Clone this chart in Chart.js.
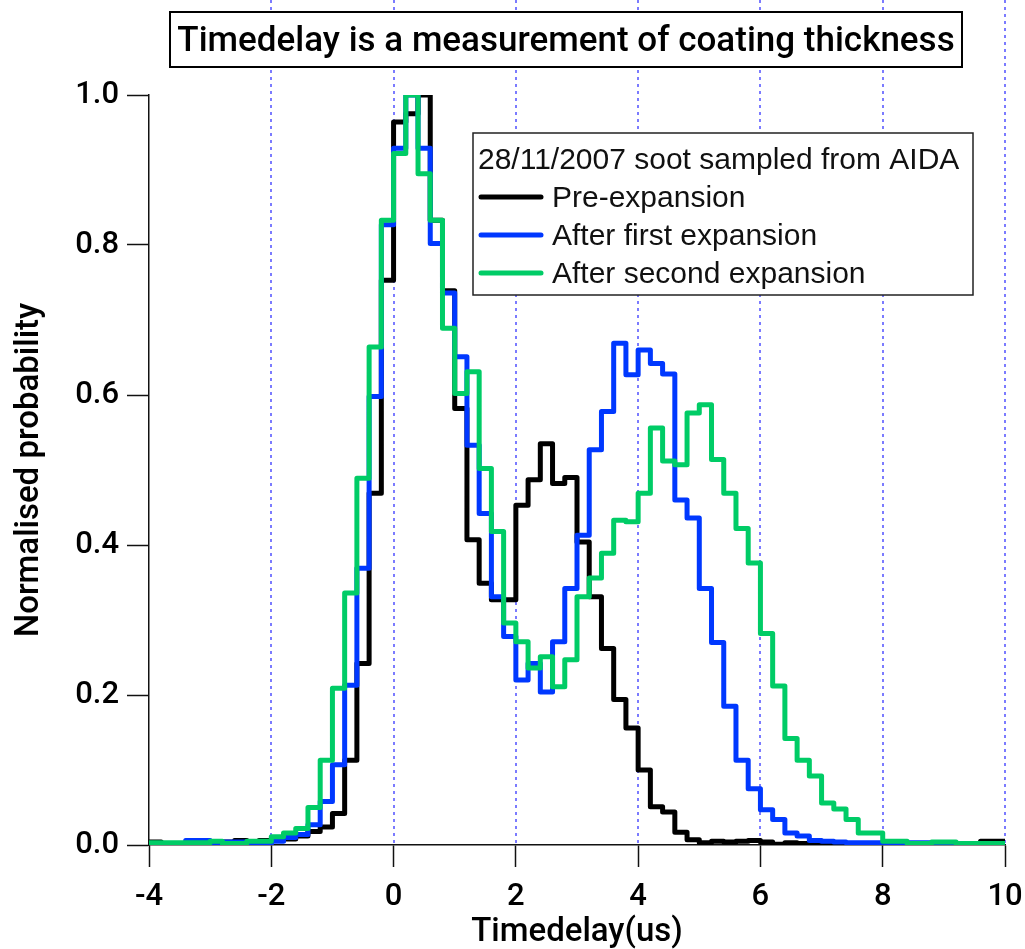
<!DOCTYPE html>
<html>
<head>
<meta charset="utf-8">
<script src="https://cdn.jsdelivr.net/npm/chart.js@4.4.1/dist/chart.umd.min.js"></script>
<style>
  html, body { margin: 0; padding: 0; background: #fff; }
  canvas { display: block; }
</style>
</head>
<body>
<canvas id="chart" width="1025" height="949"></canvas>
<script>
/* ── Data: normalised histograms, 0.2 us bins starting at -4 ── */

const binStart = -4;
const binWidth = 0.2;

const preExpansion = [
  0.004, 0.002, 0.002, 0.000, 0.002, 0.002, 0.004, 0.006, 0.004, 0.006,
  0.006, 0.008, 0.012, 0.018, 0.024, 0.042, 0.113, 0.242, 0.469, 0.753,
  0.964, 0.975, 1.000, 0.833, 0.739, 0.582, 0.407, 0.349, 0.327, 0.327,
  0.453, 0.487, 0.535, 0.482, 0.490, 0.404, 0.331, 0.262, 0.194, 0.156,
  0.100, 0.051, 0.044, 0.017, 0.007, 0.003, 0.005, 0.004, 0.005, 0.006,
  0.004, 0.001, 0.003, 0.002, 0.000, 0.000, 0.000, 0.002, 0.002, 0.002,
  0.001, 0.001, 0.001, 0.001, 0.001, 0.001, 0.001, 0.001, 0.005, 0.005
];

const afterFirst = [
  0.002, 0.000, 0.000, 0.006, 0.006, 0.002, 0.004, 0.004, 0.000, 0.000,
  0.005, 0.010, 0.014, 0.027, 0.058, 0.107, 0.213, 0.369, 0.598, 0.827,
  0.929, 1.000, 0.929, 0.802, 0.736, 0.651, 0.533, 0.442, 0.331, 0.278,
  0.220, 0.242, 0.204, 0.271, 0.342, 0.413, 0.527, 0.578, 0.669, 0.627,
  0.660, 0.642, 0.628, 0.460, 0.436, 0.342, 0.270, 0.185, 0.113, 0.075,
  0.047, 0.034, 0.016, 0.012, 0.006, 0.005, 0.004, 0.003, 0.003, 0.003,
  0.002, 0.003, 0.003, 0.003, 0.001, 0.001, 0.001, 0.001, 0.001, 0.001
];

const afterSecond = [
  0.003, 0.003, 0.003, 0.003, 0.003, 0.005, 0.002, 0.002, 0.005, 0.005,
  0.011, 0.016, 0.022, 0.050, 0.113, 0.209, 0.336, 0.489, 0.664, 0.833,
  0.922, 1.000, 0.895, 0.833, 0.689, 0.602, 0.631, 0.502, 0.418, 0.296,
  0.271, 0.236, 0.251, 0.211, 0.247, 0.331, 0.356, 0.389, 0.433, 0.431,
  0.469, 0.556, 0.512, 0.507, 0.576, 0.587, 0.514, 0.469, 0.422, 0.376,
  0.282, 0.212, 0.142, 0.113, 0.092, 0.056, 0.048, 0.034, 0.016, 0.016,
  0.005, 0.005, 0.002, 0.002, 0.004, 0.004, 0.002, 0.002, 0.002, 0.002
];

const seriesLabels = ['Pre-expansion', 'After first expansion', 'After second expansion'];
const seriesColors = ['#000000', '#0038ff', '#00cc66'];

const xTicks = [-4, -2, 0, 2, 4, 6, 8, 10];
const yTicks = [0, 0.2, 0.4, 0.6, 0.8, 1.0];

const chartTitle  = 'Timedelay is a measurement of coating thickness';
const legendTitle = '28/11/2007 soot sampled from AIDA';


/* ── Helpers ─────────────────────────────────────────────── */

const FONT = 'Liberation Sans';
const HEAVY = 'Roboto';

// left bin edge -> value, plus closing point at the last right edge
function toSteps(values) {
  const pts = values.map((v, i) => ({ x: +(binStart + i * binWidth).toFixed(2), y: v }));
  const last = values.length;
  pts.push({ x: +(binStart + last * binWidth).toFixed(2), y: values[last - 1] });
  return pts;
}

function makeSet(i, data, order) {
  return {
    label: seriesLabels[i],
    data: toSteps(data),
    borderColor: seriesColors[i],
    borderWidth: 5,
    borderJoinStyle: 'round',
    stepped: 'before',
    pointRadius: 0,
    fill: false,
    order
  };
}


/* ── Plugins: dotted grid, title box, legend box ─────────── */

const dottedGrid = {
  id: 'dottedGrid',
  beforeDatasetsDraw(chart) {
    const { ctx, chartArea, scales: { x } } = chart;
    ctx.save();
    ctx.strokeStyle = 'rgba(90,90,255,0.8)';
    ctx.lineWidth = 2;
    ctx.setLineDash([3, 4]);
    xTicks.forEach(v => {
      if (v === x.min) return;
      const px = Math.round(x.getPixelForValue(v));
      ctx.beginPath();
      ctx.moveTo(px, 0);
      ctx.lineTo(px, chartArea.bottom);
      ctx.stroke();
    });
    ctx.restore();
  }
};

const boxes = {
  id: 'boxes',
  afterDraw(chart) {
    const ctx = chart.ctx;
    ctx.save();

    // title box
    ctx.fillStyle = '#fff';
    ctx.fillRect(170, 12, 792, 55);
    ctx.strokeStyle = '#000';
    ctx.lineWidth = 2;
    ctx.strokeRect(170, 12, 792, 55);
    ctx.fillStyle = '#000';
    ctx.font = `500 35px "${HEAVY}"`;
    ctx.textAlign = 'center';
    ctx.textBaseline = 'alphabetic';
    ctx.fillText(chartTitle, 566, 51);

    // legend box
    ctx.fillStyle = '#fff';
    ctx.fillRect(473, 133, 500, 162);
    ctx.lineWidth = 1.5;
    ctx.strokeStyle = '#222';
    ctx.strokeRect(473, 133, 500, 162);

    ctx.fillStyle = '#111';
    ctx.font = `30px "${FONT}"`;
    ctx.textAlign = 'left';
    ctx.fillText(legendTitle, 478, 169);

    const rows = [197, 235, 273];
    chart.data.datasets.forEach((ds, i) => {
      ctx.strokeStyle = ds.borderColor;
      ctx.lineWidth = 5;
      ctx.lineCap = 'round';
      ctx.beginPath();
      ctx.moveTo(481, rows[i]);
      ctx.lineTo(541, rows[i]);
      ctx.stroke();
      ctx.fillStyle = '#111';
      ctx.fillText(ds.label, 552, rows[i] + 10);
    });

    ctx.restore();
  }
};


/* ── Chart ───────────────────────────────────────────────── */

const tickFont = { family: HEAVY, size: 31, weight: 500 };

new Chart(document.getElementById('chart'), {
  type: 'line',
  data: {
    datasets: [
      makeSet(0, preExpansion, 3),
      makeSet(1, afterFirst, 2),
      makeSet(2, afterSecond, 1)
    ]
  },
  options: {
    responsive: false,
    devicePixelRatio: 1,
    animation: false,
    layout: { padding: { top: 95, right: 20, left: 0, bottom: 0 } },
    plugins: {
      legend: { display: false },
      tooltip: { enabled: false }
    },
    scales: {
      x: {
        type: 'linear',
        min: -4, max: 10,
        afterBuildTicks: s => { s.ticks = xTicks.map(v => ({ value: v })); },
        afterFit: s => { s.height = 104; s.paddingLeft = 0; s.paddingRight = 0; },
        grid: { drawOnChartArea: false, drawTicks: true, tickLength: 22, tickColor: '#111', tickWidth: 1.5 },
        border: { color: '#111', width: 1.5 },
        ticks: { font: tickFont, color: '#000', padding: 12, maxRotation: 0 },
        title: {
          display: true, text: 'Timedelay(us)', color: '#000',
          font: { family: HEAVY, size: 33, weight: 500, lineHeight: 1 }, padding: 0
        }
      },
      y: {
        type: 'linear',
        min: 0, max: 1,
        afterBuildTicks: s => { s.ticks = yTicks.map(v => ({ value: v })); },
        afterFit: s => { s.width = 149; s.paddingTop = 0; s.paddingBottom = 0; },
        grid: { drawOnChartArea: false, drawTicks: true, tickLength: 22, tickColor: '#111', tickWidth: 1.5 },
        border: { color: '#111', width: 1.5 },
        ticks: { font: tickFont, color: '#000', padding: 8, callback: v => v.toFixed(1) },
        title: {
          display: true, text: 'Normalised probability', color: '#000',
          font: { family: HEAVY, size: 33, weight: 500, lineHeight: 1.2 }, padding: { top: 10, bottom: 0 }
        }
      }
    }
  },
  plugins: [dottedGrid, boxes]
});
</script>
</body>
</html>
